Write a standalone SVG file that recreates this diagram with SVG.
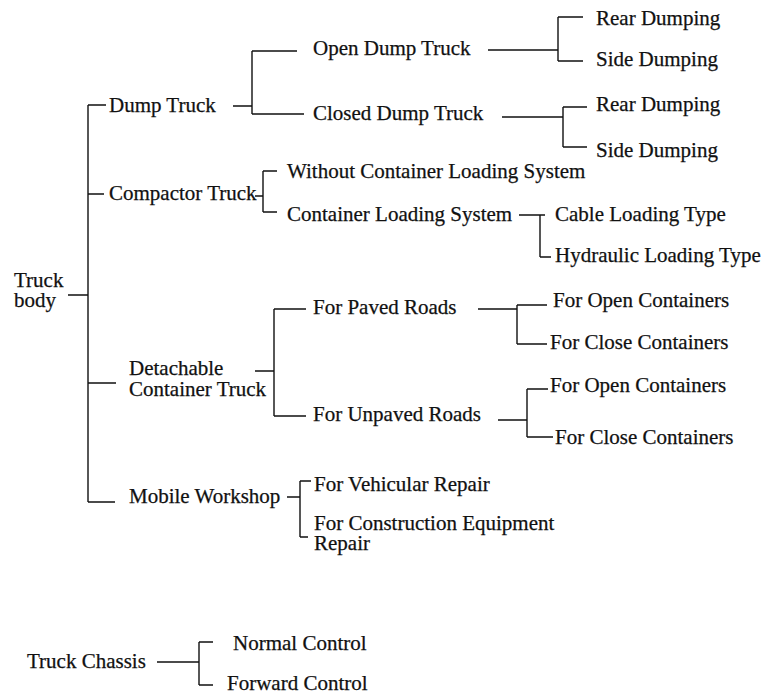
<svg xmlns="http://www.w3.org/2000/svg" width="766" height="697" viewBox="0 0 766 697">
<style>
text { font-family: "Liberation Serif", "Times New Roman", serif; font-size: 21px; fill: #111; stroke: #111; stroke-width: 0.25; }
.c path { fill: none; stroke: #111; stroke-width: 1.4; }
</style>
<rect width="766" height="697" fill="#fff"/>
<g class="c" id="connectors">
<path d="M68 295H88 M88 105V502 M88 105H106 M88 194H104 M88 383H116 M88 502H115"/>
<path d="M233 106H252 M252 51V114 M252 51H297 M252 114H304"/>
<path d="M488 50H558 M558 17V61 M558 17H583 M558 61H583"/>
<path d="M502 117H563 M563 107V147 M563 107H587 M563 147H587"/>
<path d="M255 196H263 M263 171V212 M263 171H277 M263 212H277"/>
<path d="M519 215H545 M540 215V257 M540 257H551"/>
<path d="M255 371H274 M274 309V416 M274 309H306 M274 416H306"/>
<path d="M478 309H517 M517 305V344 M517 305H547 M517 344H547"/>
<path d="M498 420H527 M527 389V437 M527 389H548 M527 437H553"/>
<path d="M287 497H300 M300 481V537 M300 481H311 M300 537H308"/>
<path d="M157 662H199 M199 642V685 M199 642H213 M199 685H213"/>
</g>
<g id="truck-body"><text x="14" y="287">Truck<tspan x="14" dy="20">body</tspan></text></g>
<g id="dump-truck"><text x="109" y="112">Dump Truck</text></g>
<g id="open-dump-truck"><text x="313" y="55">Open Dump Truck</text></g>
<g id="closed-dump-truck"><text x="313" y="120">Closed Dump Truck</text></g>
<g id="open-rear"><text x="596" y="25">Rear Dumping</text></g>
<g id="open-side"><text x="596" y="66">Side Dumping</text></g>
<g id="closed-rear"><text x="596" y="111">Rear Dumping</text></g>
<g id="closed-side"><text x="596" y="157">Side Dumping</text></g>
<g id="compactor-truck"><text x="109" y="200">Compactor Truck</text></g>
<g id="without-cls"><text x="287" y="178">Without Container Loading System</text></g>
<g id="cls"><text x="287" y="221">Container Loading System</text></g>
<g id="cable"><text x="555" y="221">Cable Loading Type</text></g>
<g id="hydraulic"><text x="555" y="262">Hydraulic Loading Type</text></g>
<g id="detachable"><text x="129" y="375">Detachable<tspan x="129" dy="21">Container Truck</tspan></text></g>
<g id="paved"><text x="313" y="314">For Paved Roads</text></g>
<g id="paved-open"><text x="553" y="307">For Open Containers</text></g>
<g id="paved-close"><text x="550" y="349">For Close Containers</text></g>
<g id="unpaved"><text x="313" y="421">For Unpaved Roads</text></g>
<g id="unpaved-open"><text x="550" y="392">For Open Containers</text></g>
<g id="unpaved-close"><text x="555" y="444">For Close Containers</text></g>
<g id="mobile-workshop"><text x="129" y="503">Mobile Workshop</text></g>
<g id="vehicular"><text x="314" y="491">For Vehicular Repair</text></g>
<g id="construction"><text x="314" y="530">For Construction Equipment<tspan x="314" dy="20">Repair</tspan></text></g>
<g id="truck-chassis"><text x="27" y="668">Truck Chassis</text></g>
<g id="normal-control"><text x="233" y="650">Normal Control</text></g>
<g id="forward-control"><text x="227" y="690">Forward Control</text></g>
</svg>
